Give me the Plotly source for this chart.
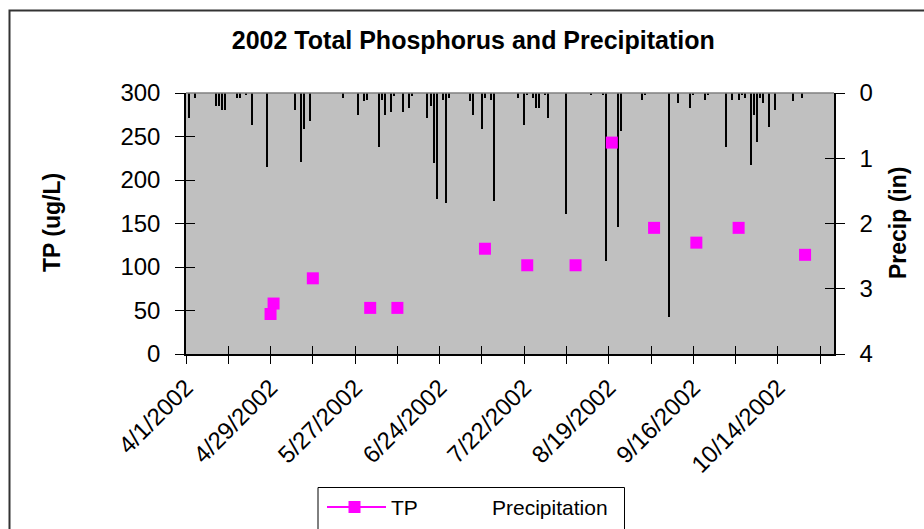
import plotly.graph_objects as go

# ---------------- data ----------------
tp_dates = ["2002-04-29", "2002-04-30", "2002-05-13", "2002-06-01", "2002-06-10",
            "2002-07-09", "2002-07-23", "2002-08-08", "2002-08-20", "2002-09-03",
            "2002-09-17", "2002-10-01", "2002-10-23"]
tp_values = [46, 58, 87, 53, 53, 121, 102, 102, 243, 145, 128, 145, 114]

precip_dates = ["2002-04-02", "2002-04-04", "2002-04-11", "2002-04-12", "2002-04-13",
                "2002-04-14", "2002-04-18", "2002-04-19", "2002-04-21", "2002-04-23",
                "2002-04-28", "2002-05-07", "2002-05-09", "2002-05-10", "2002-05-12",
                "2002-05-23", "2002-05-28", "2002-05-30", "2002-05-31", "2002-06-04",
                "2002-06-05", "2002-06-06", "2002-06-08", "2002-06-09", "2002-06-12",
                "2002-06-14", "2002-06-15", "2002-06-20", "2002-06-21", "2002-06-22",
                "2002-06-23", "2002-06-25", "2002-06-26", "2002-06-27", "2002-07-04",
                "2002-07-05", "2002-07-08", "2002-07-09", "2002-07-11", "2002-07-12",
                "2002-07-20", "2002-07-22", "2002-07-23", "2002-07-25", "2002-07-26",
                "2002-07-27", "2002-07-29", "2002-07-30", "2002-08-05", "2002-08-13",
                "2002-08-17", "2002-08-18", "2002-08-22", "2002-08-23", "2002-08-30",
                "2002-08-31", "2002-09-08", "2002-09-11", "2002-09-15", "2002-09-16",
                "2002-09-20", "2002-09-21", "2002-09-27", "2002-09-29", "2002-10-01",
                "2002-10-02", "2002-10-03", "2002-10-05", "2002-10-06", "2002-10-07",
                "2002-10-08", "2002-10-09", "2002-10-11", "2002-10-13", "2002-10-19",
                "2002-10-22"]
precip_values = [0.39, 0.07, 0.20, 0.20, 0.26,
                 0.26, 0.07, 0.07, 0.03, 0.49,
                 1.14, 0.26, 1.05, 0.55, 0.43,
                 0.07, 0.33, 0.13, 0.10, 0.82,
                 0.10, 0.33, 0.29, 0.04, 0.29,
                 0.23, 0.04, 0.39, 0.20, 1.07,
                 1.62, 0.10, 1.69, 0.07, 0.12,
                 0.33, 0.55, 0.07, 0.10, 1.66,
                 0.07, 0.49, 0.03, 0.07, 0.23,
                 0.23, 0.03, 0.39, 1.85, 0.03,
                 0.03, 2.57, 2.05, 0.58, 0.10,
                 0.03, 3.44, 0.16, 0.23, 0.03,
                 0.10, 0.03, 0.82, 0.10, 0.10,
                 0.03, 0.07, 1.11, 0.33, 0.75,
                 0.07, 0.16, 0.52, 0.26, 0.13,
                 0.07]

x_tick_dates = ["2002-04-01", "2002-04-15", "2002-04-29", "2002-05-13", "2002-05-27",
                "2002-06-10", "2002-06-24", "2002-07-08", "2002-07-22", "2002-08-05",
                "2002-08-19", "2002-09-02", "2002-09-16", "2002-09-30", "2002-10-14",
                "2002-10-28"]
x_tick_labels = ["4/1/2002", "", "4/29/2002", "", "5/27/2002", "", "6/24/2002", "",
                 "7/22/2002", "", "8/19/2002", "", "9/16/2002", "", "10/14/2002", ""]
x_range = ["2002-04-01", "2002-11-01 14:00"]
tp_ticks = [0, 50, 100, 150, 200, 250, 300]
precip_ticks = [0, 1, 2, 3, 4]

# ---------------- layout helpers ----------------
W, H = 924, 529
L, R, T, B = 186, 834, 93, 354


def px(x):
    return (x - L) / (R - L)


def py(y):
    return (B - y) / (B - T)


FONT = "Liberation Sans, Arial, sans-serif"
MAG = "#FF00FF"
DAY_MS = 86400000

fig = go.Figure()

fig.add_trace(go.Bar(
    x=precip_dates, y=precip_values, name="Precipitation",
    xaxis="x", yaxis="y", width=0.4 * DAY_MS,
    marker=dict(color="#000000", line=dict(width=0)),
    showlegend=False,
))
fig.add_trace(go.Scatter(
    x=tp_dates, y=tp_values, name="TP", mode="markers",
    xaxis="x", yaxis="y2",
    marker=dict(symbol="square", size=12, color=MAG, line=dict(width=0)),
    showlegend=False,
))
# empty traces so the overlay tick axes are drawn
fig.add_trace(go.Scatter(x=[], y=[], xaxis="x2", yaxis="y3", showlegend=False, hoverinfo="skip"))
fig.add_trace(go.Scatter(x=[], y=[], xaxis="x2", yaxis="y4", showlegend=False, hoverinfo="skip"))

tickfont = dict(family=FONT, size=24, color="#000000")

fig.update_layout(
    width=W, height=H,
    margin=dict(l=L, r=W - R, t=T, b=H - B, pad=0),
    paper_bgcolor="#FFFFFF", plot_bgcolor="#C0C0C0",
    showlegend=False,
    bargap=0,
    title=dict(text="<b>2002 Total Phosphorus and Precipitation</b>",
               font=dict(family=FONT, size=25, color="#000000"),
               x=473.3 / W, xanchor="center", xref="container",
               y=1 - 40.5 / H, yanchor="middle", yref="container"),
    xaxis=dict(type="date", range=x_range, tickmode="array",
               tickvals=x_tick_dates, ticktext=x_tick_labels, tickangle=-45,
               ticks="outside", ticklen=8, tickwidth=1, tickcolor="#000000",
               showline=True, linecolor="#000000", linewidth=2,
               showgrid=False, zeroline=False, tickfont=tickfont),
    xaxis2=dict(type="date", range=x_range, overlaying="x", anchor="y",
                tickmode="array", tickvals=x_tick_dates, showticklabels=False,
                ticks="inside", ticklen=8, tickwidth=1, tickcolor="#000000",
                showline=False, showgrid=False, zeroline=False),
    yaxis=dict(range=[4, 0], side="right", anchor="x", tickmode="array",
               tickvals=precip_ticks, ticks="outside", ticklen=9, tickwidth=1,
               tickcolor="#000000", showline=True, linecolor="#000000", linewidth=1.5,
               showgrid=False, zeroline=False, tickfont=tickfont,
               ticklabelstandoff=10),
    yaxis2=dict(range=[0, 300], side="left", overlaying="y", anchor="x",
                tickmode="array", tickvals=tp_ticks, ticks="outside", ticklen=9,
                tickwidth=1, tickcolor="#000000", showline=True, linecolor="#000000",
                linewidth=1.5, showgrid=False, zeroline=False, tickfont=tickfont,
                ticklabelstandoff=10),
    yaxis3=dict(range=[0, 300], side="left", overlaying="y", anchor="x2",
                tickmode="array", tickvals=tp_ticks, ticks="inside", ticklen=9,
                tickwidth=1, tickcolor="#000000", showticklabels=False,
                showline=False, showgrid=False, zeroline=False),
    yaxis4=dict(range=[4, 0], side="right", overlaying="y", anchor="x2",
                tickmode="array", tickvals=precip_ticks, ticks="inside", ticklen=9,
                tickwidth=1, tickcolor="#000000", showticklabels=False,
                showline=False, showgrid=False, zeroline=False),
)

shapes = [
    # outer chart frame (extends past the picture at right and bottom)
    dict(type="rect", xref="paper", yref="paper", x0=px(9.5), x1=px(960),
         y0=py(10.5), y1=py(560), line=dict(color="#333333", width=2), layer="above"),
    # plot area top border
    dict(type="line", xref="paper", yref="paper", x0=0, x1=1, y0=1, y1=1,
         line=dict(color="#808080", width=1.5), layer="above"),
    # legend box
    dict(type="rect", xref="paper", yref="paper", x0=px(318), x1=px(624.5),
         y0=py(487.5), y1=py(560), line=dict(color="#000000", width=1),
         fillcolor="#FFFFFF", layer="above"),
    # legend TP line + marker
    dict(type="line", xref="paper", yref="paper", x0=px(327), x1=px(386),
         y0=py(507), y1=py(507), line=dict(color=MAG, width=2), layer="above"),
    dict(type="rect", xref="paper", yref="paper", x0=px(348.5), x1=px(360.5),
         y0=py(501), y1=py(513), line=dict(width=0), fillcolor=MAG, layer="above"),
]
fig.update_layout(shapes=shapes)

annotations = [
    dict(text="<b>TP (ug/L)</b>", x=px(52), y=py(223), xref="paper", yref="paper",
         textangle=-90, showarrow=False, xanchor="center", yanchor="middle",
         font=dict(family=FONT, size=23, color="#000000")),
    dict(text="<b>Precip (in)</b>", x=px(898), y=py(223), xref="paper", yref="paper",
         textangle=-90, showarrow=False, xanchor="center", yanchor="middle",
         font=dict(family=FONT, size=23, color="#000000")),
    dict(text="TP", x=px(389), y=py(507), xref="paper", yref="paper",
         showarrow=False, xanchor="left", yanchor="middle",
         font=dict(family=FONT, size=21, color="#000000")),
    dict(text="Precipitation", x=px(490), y=py(507), xref="paper", yref="paper",
         showarrow=False, xanchor="left", yanchor="middle",
         font=dict(family=FONT, size=21, color="#000000")),
]
fig.update_layout(annotations=annotations)

fig.write_html("out.html")
